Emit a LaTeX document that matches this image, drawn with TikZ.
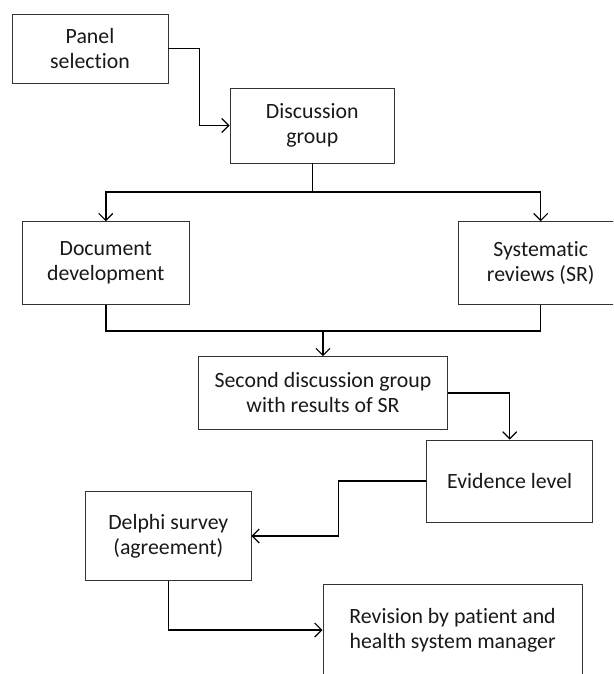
\documentclass[tikz,border=0pt]{standalone}
\usepackage{fontspec}
\setmainfont[Ligatures=NoCommon]{Carlito}
\usetikzlibrary{arrows.meta}
\begin{document}
\begin{tikzpicture}[x=1pt,y=-1pt,
  box/.style={draw=black!80, line width=0.9pt, rectangle, inner sep=0pt, align=center,
    text=black!90, font=\fontsize{21.8pt}{25pt}\selectfont},
  arr/.style={line width=1.5pt, -{Straight Barb[length=7pt,width=14pt,line width=1.2pt]}},
  ln/.style={line width=1.5pt}]
\clip (0,0) rectangle (613,674);
\fill[white] (0,0) rectangle (613,674);
\node[box, minimum width=156pt, minimum height=69pt] (panel) at (90,48.5) {Panel\\selection};
\node[box, minimum width=164.6pt, minimum height=75pt] (disc) at (312.3,125.5) {Discussion\\group};
\node[box, minimum width=166.3pt, minimum height=82.6pt] (doc) at (105.8,263) {Document\\development};
\node[box, minimum width=165pt, minimum height=82.6pt] (sys) at (540.7,263) {Systematic\\reviews (SR)};
\node[box, minimum width=249.4pt, minimum height=72.3pt] (second) at (323,392.8) {Second discussion group\\with results of SR};
\node[box, minimum width=166pt, minimum height=82pt] (evid) at (509.7,481) {Evidence level};
\node[box, minimum width=165.3pt, minimum height=88.6pt] (delphi) at (168.3,536) {Delphi survey\\(agreement)};
\node[box, minimum width=259.3pt, minimum height=90.6pt] (rev) at (452.6,630) {Revision by patient and\\health system manager};
\coordinate (split) at (312.3,192);
\coordinate (merge) at (323,331);
\draw[arr] (panel.east) -- ++(31,0) |- (disc.west);
\draw[ln] (disc.south) -- (split);
\draw[arr] (split) -| (doc.north);
\draw[arr] (split) -| (sys.north);
\draw[ln] (doc.south) |- (merge) -| (sys.south);
\draw[arr] (merge) -- (second.north);
\draw[arr] (second.east) -| (evid.north);
\draw[arr] (evid.west) -- ++(-87.7,0) |- (delphi.east);
\draw[arr] (delphi.south) |- (rev.west);
\end{tikzpicture}
\end{document}
